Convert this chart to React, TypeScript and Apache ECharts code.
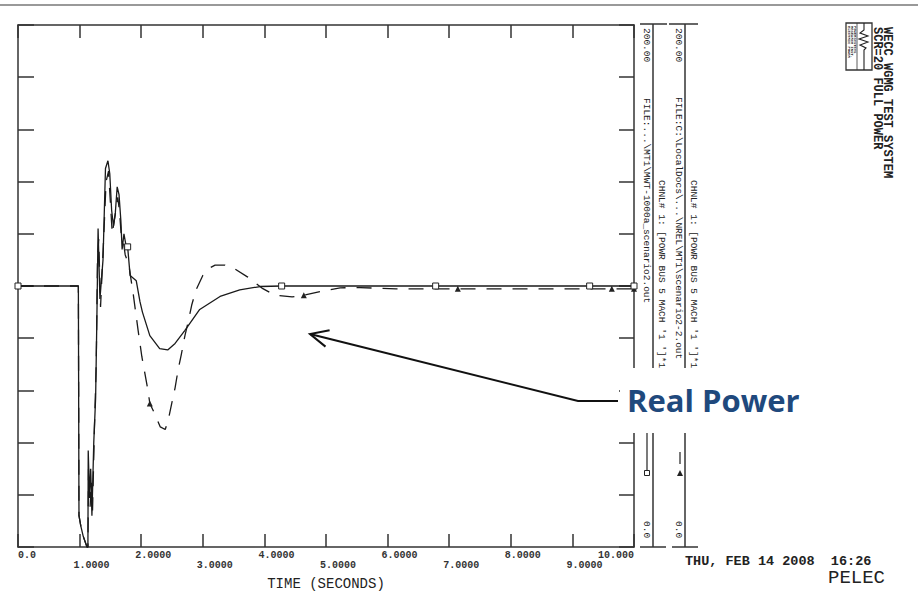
import React, { useEffect, useRef } from "react";
import * as echarts from "echarts";

// ---- data ----
const X_TICK_LABELS = ["0.0", "1.0000", "2.0000", "3.0000", "4.0000", "5.0000", "6.0000", "7.0000", "8.0000", "9.0000", "10.000"];

const SOLID_T = [0, 0.98, 0.99, 1.02, 1.06, 1.12, 1.135, 1.14, 1.16, 1.18, 1.2, 1.23, 1.26, 1.28, 1.3, 1.33, 1.38, 1.42, 1.46, 1.49, 1.52, 1.55, 1.58, 1.61, 1.64, 1.67, 1.69, 1.72, 1.75, 1.78, 1.82, 1.92, 1.98, 2.02, 2.14, 2.3, 2.43, 2.55, 2.71, 2.95, 3.28, 3.6, 3.93, 4.28, 6.78, 9.28, 10];
const SOLID_V = [100, 100, 12, 8, 4, 0, 0, 37, 20, 30, 12, 40, 57, 87, 122, 95, 110, 145, 148, 143, 129, 123, 128, 138, 135, 125, 114, 120, 116, 115, 104, 102, 94, 90, 81, 76, 75.5, 78, 83, 91, 96, 98.5, 99.8, 100, 100, 100, 100];

const DASHED_T = [0, 0.98, 0.99, 1.02, 1.06, 1.12, 1.135, 1.145, 1.17, 1.19, 1.21, 1.24, 1.27, 1.29, 1.31, 1.34, 1.39, 1.43, 1.47, 1.5, 1.53, 1.57, 1.62, 1.65, 1.68, 1.71, 1.74, 1.8, 1.87, 1.95, 2.01, 2.11, 2.14, 2.22, 2.31, 2.39, 2.44, 2.5, 2.55, 2.6, 2.65, 2.71, 2.76, 2.82, 2.89, 3.0, 3.12, 3.2, 3.36, 3.49, 3.73, 3.96, 4.17, 4.45, 4.64, 4.94, 5.23, 5.55, 6.14, 7.14, 9.64, 10];
const DASHED_V = [100, 100, 12, 8, 4, 0, 0, 30, 15, 25, 14, 45, 70, 110, 118, 92, 118, 140, 144, 132, 120, 126, 134, 128, 118, 117, 112, 108, 97, 83, 73, 60, 55, 51, 46, 45, 48.7, 55.5, 61, 68, 73.6, 81, 86, 92.7, 98.5, 104, 107, 108, 108, 107, 103.4, 99.2, 96.5, 95.8, 96.5, 98, 99.3, 99.4, 98.9, 98.9, 98.9, 98.9];

const SOLID_MARK_T = [0, 1.78, 4.28, 6.78, 9.28, 10];
const DASHED_MARK_T = [2.14, 4.64, 7.14, 9.64, 10];

const FILE_1 = "FILE:...\\MT1\\MWT-1000a_scenario2.out";
const FILE_2 = "FILE:C:\\LocalDocs\\...\\NREL\\MT1\\scenario2-2.out";
const CHANNEL = "CHNL# 1: [POWR BUS 5 MACH '1 ']*1";
const AXIS_MAX_LABEL = "200.00";
const AXIS_MIN_LABEL = "0.0";

const MONO = '"Liberation Mono", "DejaVu Sans Mono", monospace';

function vtext(x: number, y: number, text: string, size = 9.5, weight = "normal") {
  return {
    type: "text",
    x,
    y,
    rotation: -Math.PI / 2,
    z: 100,
    style: {
      text,
      fill: "#222",
      font: `${weight} ${size}px ${MONO}`,
      align: "left",
      verticalAlign: "middle",
    },
  };
}

function line(x1: number, y1: number, x2: number, y2: number, w = 1.5, dash?: number[]) {
  return {
    type: "line",
    z: 100,
    shape: { x1, y1, x2, y2 },
    style: { stroke: "#333", lineWidth: w, lineDash: dash },
  };
}

export default function App() {
  const ref = useRef<HTMLDivElement>(null);
  useEffect(() => {
    if (!ref.current) return;
    const chart = echarts.init(ref.current, undefined, { renderer: "svg" });

    const solidData = SOLID_T.map((t, i) => [t, SOLID_V[i]]);
    const dashedData = DASHED_T.map((t, i) => [t, DASHED_V[i]]);

    const axisLineStyle = { color: "#333", width: 1.5 };

    const graphics: any[] = [
      // top separator
      { type: "line", z: 100, shape: { x1: 0, y1: 5, x2: 918, y2: 5 }, style: { stroke: "#999", lineWidth: 2 } },
      // right panel group 1
      line(640, 24, 667, 24),
      line(653, 24, 653, 547),
      line(640, 547, 666, 547),
      vtext(646, 28, AXIS_MAX_LABEL),
      vtext(646, 98, FILE_1),
      vtext(661.5, 180, CHANNEL),
      vtext(646, 521, AXIS_MIN_LABEL),
      line(647, 420, 647, 471, 1.3),
      { type: "rect", z: 101, shape: { x: 644.5, y: 470.5, width: 5, height: 5 }, style: { fill: "#fff", stroke: "#222", lineWidth: 1 } },
      // right panel group 2
      line(669, 24, 698, 24),
      line(685, 24, 685, 547),
      line(672, 547, 698, 547),
      vtext(678.5, 28, AXIS_MAX_LABEL),
      vtext(678.5, 97, FILE_2),
      vtext(693.5, 180, CHANNEL),
      vtext(678.5, 521, AXIS_MIN_LABEL),
      line(680, 420, 680, 472, 1.3, [12, 20]),
      { type: "polygon", z: 101, shape: { points: [[680, 470], [677, 476], [683, 476]] }, style: { fill: "#222" } },
      // white box behind the annotation label
      { type: "rect", z: 110, shape: { x: 620, y: 368, width: 195, height: 65 }, style: { fill: "#fff" } },
      {
        type: "text",
        z: 111,
        x: 627,
        y: 400,
        style: { text: "Real Power", fill: "#1F497D", font: 'bold 31px "Open Sans", sans-serif', align: "left", verticalAlign: "middle" },
      },
      // arrow
      { type: "polyline", z: 111, shape: { points: [[618, 401], [578, 401], [310, 334]] }, style: { stroke: "#111", lineWidth: 2, fill: null } },
      { type: "polyline", z: 111, shape: { points: [[329.6, 330.2], [310, 334], [325.5, 346.6]] }, style: { stroke: "#111", lineWidth: 2, fill: null } },
      // date and program
      { type: "text", z: 100, x: 685, y: 561, style: { text: "THU, FEB 14 2008  16:26", fill: "#222", font: `bold 13.5px ${MONO}`, align: "left", verticalAlign: "middle" } },
      { type: "text", z: 100, x: 885, y: 578, style: { text: "PELEC", fill: "#222", font: `19px ${MONO}`, align: "right", verticalAlign: "middle" } },
      // logo
      { type: "rect", z: 100, shape: { x: 846, y: 23, width: 26, height: 47 }, style: { fill: "#fff", stroke: "#333", lineWidth: 1.3 } },
      { type: "polyline", z: 101, shape: { points: [[864, 23], [864, 30], [860, 33], [868, 36], [859, 39], [868, 42], [860, 45], [866, 48], [864, 50], [864, 70]] }, style: { stroke: "#222", lineWidth: 1.1, fill: null } },
      { type: "line", z: 101, shape: { x1: 857, y1: 23, x2: 857, y2: 70 }, style: { stroke: "#333", lineWidth: 0.8 } },
      vtext(849, 26, "ELECTRIC POWER", 3.8, "bold"),
      vtext(852, 26, "RESEARCH INST.", 3.8, "bold"),
      vtext(855, 26, "POWERSYSTEMS", 3.8, "bold"),
      vtext(887, 27, "WECC WGMG TEST SYSTEM", 12, "bold"),
      vtext(877, 27, "SCR=20 FULL POWER", 12, "bold"),
    ];

    const option: any = {
      animation: false,
      backgroundColor: "#fff",
      grid: { left: 18, top: 25, right: 284, bottom: 53, containLabel: false },
      xAxis: [
        {
          type: "value",
          min: 0,
          max: 10,
          interval: 1,
          position: "bottom",
          name: "TIME (SECONDS)",
          nameLocation: "middle",
          nameGap: 30,
          nameTextStyle: { fontFamily: MONO, fontSize: 14, color: "#222" },
          axisLine: { show: true, onZero: false, lineStyle: axisLineStyle },
          axisTick: { show: true, inside: true, length: 13, lineStyle: axisLineStyle },
          splitLine: { show: false },
          axisLabel: {
            show: true,
            margin: 3,
            align: "left",
            verticalAlign: "top",
            fontFamily: MONO,
            fontWeight: "bold",
            fontSize: 10,
            color: "#333",
            formatter: (v: number) => {
              const i = Math.round(v);
              const lab = X_TICK_LABELS[i];
              if (i === 0) return `{a|${lab}}`;
              if (i === X_TICK_LABELS.length - 1) return `{z|${lab}}`;
              return i % 2 === 0 ? `{e|${lab}}` : `{o|${lab}}`;
            },
            rich: {
              a: { fontFamily: MONO, fontWeight: "bold", fontSize: 10, color: "#333", padding: [0, 0, 0, 0] },
              e: { fontFamily: MONO, fontWeight: "bold", fontSize: 10, color: "#333", padding: [0, 0, 0, -6] },
              o: { fontFamily: MONO, fontWeight: "bold", fontSize: 10, color: "#333", padding: [10, 0, 0, -6] },
              z: { fontFamily: MONO, fontWeight: "bold", fontSize: 10, color: "#333", padding: [0, 0, 0, -36] },
            },
          },
        },
        {
          type: "value",
          min: 0,
          max: 10,
          interval: 1,
          position: "top",
          axisLine: { show: true, onZero: false, lineStyle: axisLineStyle },
          axisTick: { show: true, inside: true, length: 13, lineStyle: axisLineStyle },
          axisLabel: { show: false },
          splitLine: { show: false },
        },
      ],
      yAxis: [
        {
          type: "value",
          min: 0,
          max: 200,
          interval: 20,
          position: "left",
          axisLine: { show: true, onZero: false, lineStyle: axisLineStyle },
          axisTick: { show: true, inside: true, length: 16, lineStyle: axisLineStyle },
          axisLabel: { show: false },
          splitLine: { show: false },
        },
        {
          type: "value",
          min: 0,
          max: 200,
          interval: 20,
          position: "right",
          axisLine: { show: true, onZero: false, lineStyle: axisLineStyle },
          axisTick: { show: true, inside: true, length: 15, lineStyle: axisLineStyle },
          axisLabel: { show: false },
          splitLine: { show: false },
        },
      ],
      series: [
        {
          name: "MWT-1000a_scenario2",
          type: "line",
          data: solidData,
          xAxisIndex: 0,
          yAxisIndex: 0,
          showSymbol: true,
          showAllSymbol: true,
          symbol: (val: number[]) => (SOLID_MARK_T.includes(val[0]) ? "rect" : "none"),
          symbolSize: 6,
          itemStyle: { color: "#fff", borderColor: "#222", borderWidth: 1 },
          lineStyle: { color: "#1a1a1a", width: 1.3 },
          z: 3,
        },
        {
          name: "scenario2-2",
          type: "line",
          data: dashedData,
          xAxisIndex: 0,
          yAxisIndex: 0,
          showSymbol: true,
          showAllSymbol: true,
          symbol: (val: number[]) => (DASHED_MARK_T.includes(val[0]) ? "triangle" : "none"),
          symbolSize: 6,
          itemStyle: { color: "#222", borderColor: "#222", borderWidth: 0 },
          lineStyle: { color: "#1a1a1a", width: 1.3, type: [15, 11] },
          z: 2,
        },
      ],
      graphic: { elements: graphics },
    };
    chart.setOption(option);
    return () => chart.dispose();
  }, []);

  return <div ref={ref} style={{ position: "absolute", left: 0, top: 0, width: 918, height: 600 }} />;
}
